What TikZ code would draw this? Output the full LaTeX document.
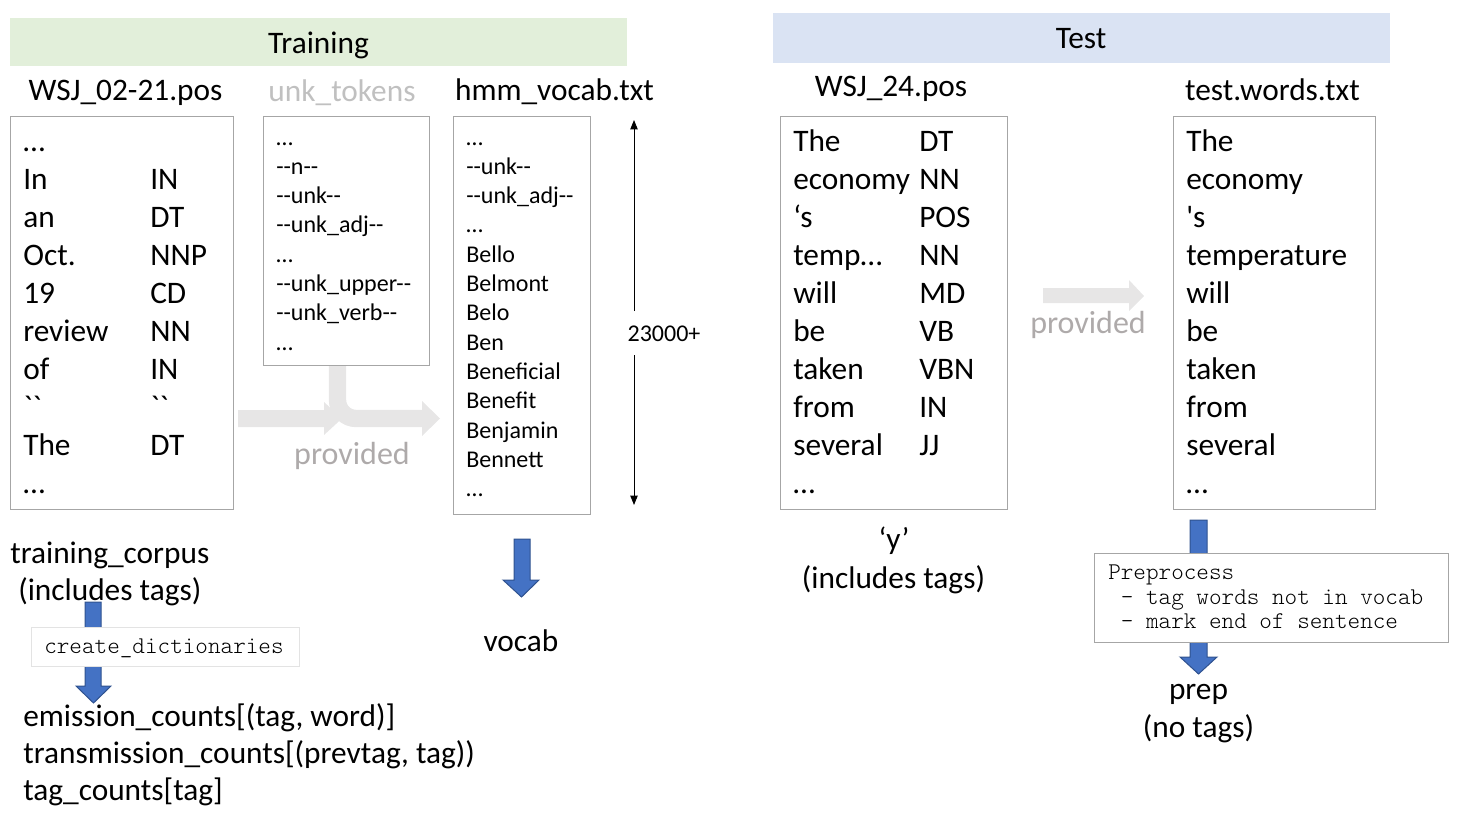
\documentclass[tikz,border=0pt]{standalone}
\usepackage{fontspec}
\newfontfamily\calib{Carlito}
\usetikzlibrary{fit,arrows.meta}
\definecolor{trainbg}{HTML}{E2EFDA}
\definecolor{testbg}{HTML}{DAE3F3}
\definecolor{boxgray}{HTML}{A6A6A6}
\definecolor{lightbox}{HTML}{E3E3E3}
\definecolor{provarrow}{HTML}{E7E6E6}
\definecolor{provtext}{HTML}{AEAAAA}
\definecolor{unkgray}{HTML}{C0C0C0}
\definecolor{blueA}{HTML}{4472C4}
\definecolor{blueB}{HTML}{2F528F}
\begin{document}
\begin{tikzpicture}[x=0.75pt,y=-0.75pt,
  big/.style={font=\calib\fontsize{23.5}{28}\selectfont, inner sep=0pt},
  small/.style={font=\calib\fontsize{18}{22}\selectfont, inner sep=0pt},
  mono/.style={font=\ttfamily\fontseries{l}\fontsize{18}{22}\selectfont, inner sep=0pt},
  filebox/.style={draw=boxgray, line width=0.75pt, inner sep=0pt},
  band/.style={inner sep=0pt, draw=none},
  blockarrow/.style={fill=blueA, draw=blueB, line width=0.75pt},
  provfill/.style={fill=provarrow, draw=none},
  provlabel/.style={font=\calib\fontsize{24}{28}\selectfont, inner sep=0pt, text=provtext},
]
\useasboundingbox (0,0) rectangle (1458,821);

% bands
\node[band, fill=trainbg, fit={(10,18) (627,66)}] (trainband) {};
\node[big, anchor=base] (traintitle) at (318.5,53) {Training};
\node[band, fill=testbg, fit={(773,13) (1390,63)}] (testband) {};
\node[big, anchor=base] (testtitle) at (1081,48) {Test};

% file labels
\node[big, anchor=base] (lab1) at (125.5,100) {WSJ\_02-21.pos};
\node[big, anchor=base, text=unkgray] (lab2) at (342,101) {unk\_tokens};
\node[big, anchor=base] (lab3) at (554.5,100) {hmm\_vocab.txt};
\node[big, anchor=base] (lab4) at (891,96) {WSJ\_24.pos};
\node[big, anchor=base] (lab5) at (1272.5,100) {test.words.txt};

% grey "provided" arrows (behind)
\fill[provfill] (238,410) -- (324,410) -- (324,402) -- (342,418.5) -- (324,435) -- (324,427) -- (238,427) -- cycle;
\coordinate (curvestart) at (337.5,366);
\coordinate (curveend) at (423,418.5);
\draw[draw=provarrow, line width=13pt, rounded corners=14pt] (curvestart) |- (curveend);
\fill[provfill] (422,401) -- (440,418.5) -- (422,436) -- cycle;
\node[provlabel, anchor=base] (prov1) at (352,464) {provided};

\fill[provfill] (1043,288) -- (1129,288) -- (1129,280) -- (1144,296) -- (1129,311) -- (1129,303) -- (1043,303) -- cycle;
\node[provlabel, anchor=base] (prov2) at (1088,333) {provided};

% boxes
\node[filebox, fit={(10,116) (233,509)}] (corpusbox) {};
\node[filebox, fit={(263,116) (429,365)}] (unkbox) {};
\node[filebox, fit={(453,116) (590,514)}] (vocabbox) {};
\node[filebox, fit={(780,116) (1007,509)}] (testposbox) {};
\node[filebox, fit={(1173,116) (1375,509)}] (wordsbox) {};

% corpus contents
\foreach \w/\t [count=\i] in {…/, In/IN, an/DT, Oct./NNP, 19/CD, review/NN, of/IN, ``/``, The/DT, …/}{
  \node[big, anchor=base west] (cw\i) at (23,{151+38*(\i-1)}) {\w};
  \node[big, anchor=base west] (ct\i) at (150,{151+38*(\i-1)}) {\t};
}
% unk tokens
\foreach \w [count=\i] in {…, --n--, --unk--, --unk\_adj--, …, --unk\_upper--, --unk\_verb--, …}{
  \node[small, anchor=base west] (uw\i) at (276,{145+29.33*(\i-1)}) {\w};
}
% vocab
\foreach \w [count=\i] in {…, --unk--, --unk\_adj--, …, Bello, Belmont, Belo, Ben, Beneficial, Benefit, Benjamin, Bennett, …}{
  \node[small, anchor=base west] (vw\i) at (466,{145+29.33*(\i-1)}) {\w};
}
% test pos
\foreach \w/\t [count=\i] in {The/DT, economy/NN, ‘s/POS, temp…/NN, will/MD, be/VB, taken/VBN, from/IN, several/JJ, …/}{
  \node[big, anchor=base west] (tw\i) at (793,{151+38*(\i-1)}) {\w};
  \node[big, anchor=base west] (tt\i) at (919,{151+38*(\i-1)}) {\t};
}
% test words
\foreach \w [count=\i] in {The, economy, 's, temperature, will, be, taken, from, several, …}{
  \node[big, anchor=base west] (ww\i) at (1186,{151+38*(\i-1)}) {\w};
}

% 23000+ double arrow
\coordinate (vtop) at (634,120);
\coordinate (vbot) at (634,505);
\node[small, anchor=base, inner ysep=0pt] (count) at (664,341) {23000+};
\coordinate (gaptop) at (634,311);
\coordinate (gapbot) at (634,355);
\draw[line width=0.75pt, -{Triangle[length=7pt,width=5.5pt]}] (gaptop) -- (vtop);
\draw[line width=0.75pt, -{Triangle[length=7pt,width=5.5pt]}] (gapbot) -- (vbot);

% bottom left
\node[big, anchor=base west] (tcorp) at (10,563) {training\_corpus};
\node[big, anchor=base west] (tincl) at (18,600) {(includes tags)};
\draw[blockarrow] (85,602) -- (101,602) -- (101,686) -- (111,686) -- (93.5,703) -- (76,686) -- (85,686) -- cycle;
\node[fit={(31,627) (299,666)}, draw=lightbox, line width=0.75pt, fill=white, inner sep=0pt] (cdbox) {};
\node[mono, anchor=base west] (cd) at (44,653) {create\_dictionaries};
\node[big, anchor=base west] (em1) at (23,726) {emission\_counts[(tag, word)]};
\node[big, anchor=base west] (em2) at (23,763) {transmission\_counts[(prevtag, tag))};
\node[big, anchor=base west] (em3) at (23,800) {tag\_counts[tag]};

% vocab arrow
\draw[blockarrow] (514,539) -- (530,539) -- (530,580) -- (539,580) -- (521.5,597) -- (503,580) -- (514,580) -- cycle;
\node[big, anchor=base] (vocabout) at (521,651) {vocab};

% y label
\node[big, anchor=base] (ylab) at (894,549) {‘y’};
\node[big, anchor=base] (yincl) at (893.5,588) {(includes tags)};

% preprocess
\draw[blockarrow] (1190,520) -- (1207,520) -- (1207,657) -- (1217,657) -- (1198.5,674) -- (1180,657) -- (1190,657) -- cycle;
\node[fit={(1094,553) (1448,642)}, draw=boxgray, line width=0.75pt, fill=white, inner sep=0pt] (prepbox) {};
\node[mono, anchor=base west] (pp1) at (1108,579) {Preprocess};
\node[mono, anchor=base west] (pp2) at (1120.6,604) {- tag words not in vocab};
\node[mono, anchor=base west] (pp3) at (1120.6,628) {- mark end of sentence};
\node[big, anchor=base] (prep) at (1198.5,699) {prep};
\node[big, anchor=base] (notags) at (1198.5,737) {(no tags)};
\end{tikzpicture}
\end{document}
